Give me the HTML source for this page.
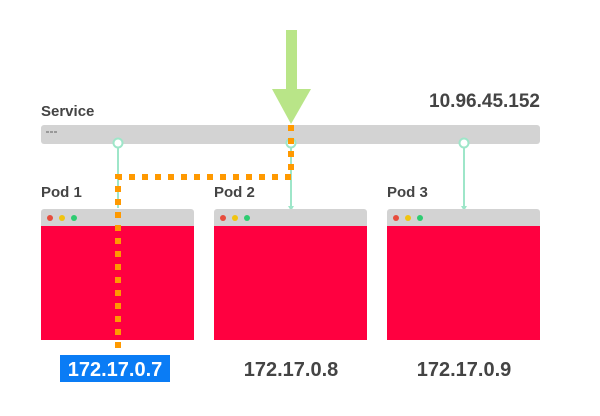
<!DOCTYPE html>
<html><head><style>
body{margin:0;background:#fff;width:600px;height:411px;overflow:hidden;font-family:"Liberation Sans",sans-serif;}
</style></head><body>
<svg width="600" height="411" xmlns="http://www.w3.org/2000/svg" font-family="Liberation Sans, sans-serif">
<rect x="286" y="30" width="11" height="60" fill="#b9e588"/>
<polygon points="272,89 311,89 291,124" fill="#b9e588"/>
<text x="41" y="116" font-size="15" font-weight="bold" fill="#444">Service</text>
<text x="540" y="107" font-size="19" font-weight="bold" fill="#444" text-anchor="end">10.96.45.152</text>
<rect x="41" y="125" width="499" height="19" rx="3" fill="#d3d3d3"/>
<g fill="#999"><rect x="46" y="131" width="3" height="2"/><rect x="50" y="131" width="3" height="2"/><rect x="54" y="131" width="3" height="2"/></g>
<g stroke="#9ee6c9" stroke-width="2" fill="#fff">
<line x1="118" y1="143" x2="118" y2="208"/>
<line x1="291" y1="143" x2="291" y2="208"/>
<line x1="464" y1="143" x2="464" y2="208"/>
<circle cx="118" cy="143" r="4.5"/><circle cx="291" cy="143" r="4.5"/><circle cx="464" cy="143" r="4.5"/>
</g>
<g fill="#9ee6c9"><polygon points="288,206 294,206 291,211"/><polygon points="461,206 467,206 464,211"/></g>
<g font-size="15" font-weight="bold" fill="#444">
<text x="41" y="197">Pod 1</text><text x="214" y="197">Pod 2</text><text x="387" y="197">Pod 3</text></g>
<g>
<rect x="41" y="209" width="153" height="131" rx="3" fill="#d3d3d3"/><rect x="41" y="226" width="153" height="114" fill="#ff0040"/>
<rect x="214" y="209" width="153" height="131" rx="3" fill="#d3d3d3"/><rect x="214" y="226" width="153" height="114" fill="#ff0040"/>
<rect x="387" y="209" width="153" height="131" rx="3" fill="#d3d3d3"/><rect x="387" y="226" width="153" height="114" fill="#ff0040"/>
</g>
<g>
<circle cx="50" cy="218" r="3" fill="#e74c3c"/><circle cx="62" cy="218" r="3" fill="#f1c40f"/><circle cx="74" cy="218" r="3" fill="#2ecc71"/>
<circle cx="223" cy="218" r="3" fill="#e74c3c"/><circle cx="235" cy="218" r="3" fill="#f1c40f"/><circle cx="247" cy="218" r="3" fill="#2ecc71"/>
<circle cx="396" cy="218" r="3" fill="#e74c3c"/><circle cx="408" cy="218" r="3" fill="#f1c40f"/><circle cx="420" cy="218" r="3" fill="#2ecc71"/>
</g>
<g stroke="#ff9900" stroke-width="6" fill="none" stroke-dasharray="6 7">
<path d="M291 125 V177 H118 V352"/>
</g>
<rect x="60" y="355" width="110" height="27" fill="#0a7cf5"/>
<g font-size="20" font-weight="bold" text-anchor="middle">
<text x="115" y="376" fill="#fff">172.17.0.7</text>
<text x="291" y="376" fill="#444">172.17.0.8</text>
<text x="464" y="376" fill="#444">172.17.0.9</text>
</g>
</svg>
</body></html>
